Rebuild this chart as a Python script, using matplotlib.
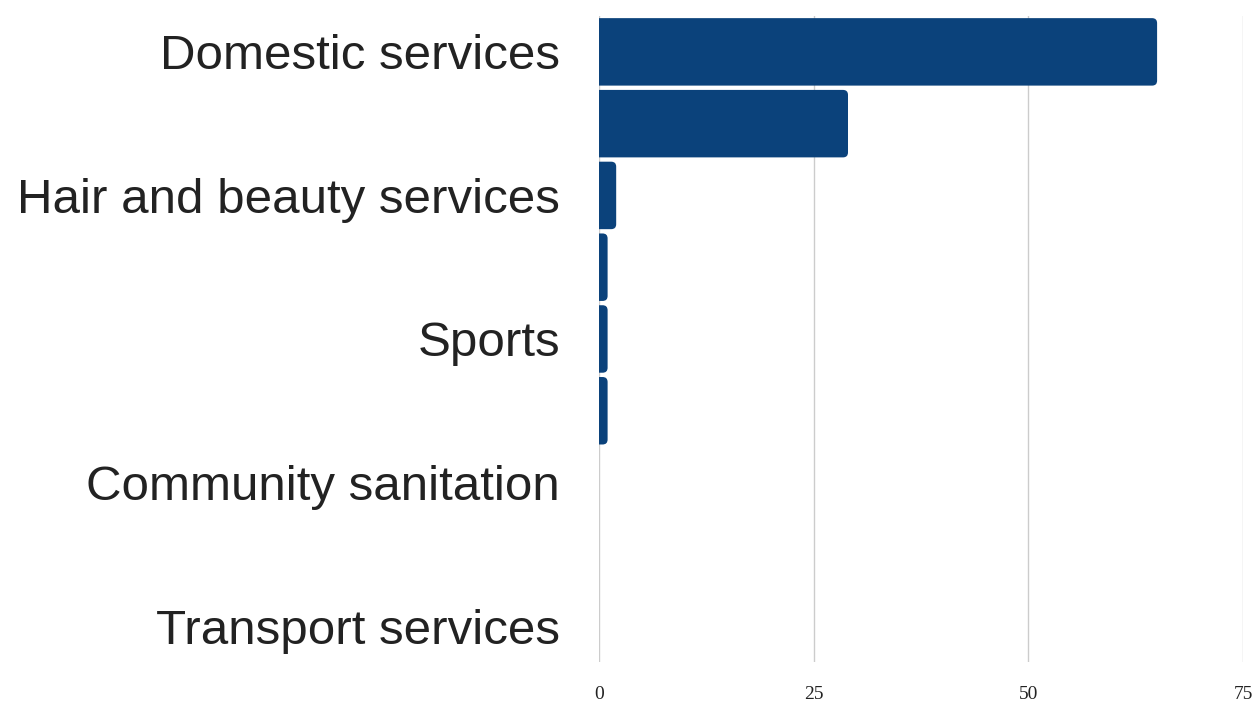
import matplotlib.pyplot as plt
from matplotlib.patches import FancyBboxPatch

# bars, top to bottom; only every other category label is drawn
categories = ["Domestic services", "", "Hair and beauty services", "",
              "Sports", "", "Community sanitation", "", "Transport services"]
values = [65, 29, 2, 1, 1, 1, 0, 0, 0]
xticks = [0, 25, 50, 75]

bar_color = "#0b427b"

fig = plt.figure(figsize=(12.55, 7.04), dpi=100)
ax = fig.add_axes([0.4773, 0.0597, 0.5131, 0.9176])

n = len(values)
ax.set_xlim(0, 75)
ax.set_ylim(n - 0.5, -0.5)

# rounded right ends; left edge starts off-axis so it stays square
height = 0.94
px_x = 644 / 75.0
px_y = 72.0
for i, v in enumerate(values):
    if v <= 0:
        continue
    r = 5 / px_x
    box = FancyBboxPatch((-2, i - height / 2), v + 2, height,
                         boxstyle="round,pad=0,rounding_size=%f" % r,
                         mutation_aspect=px_x / px_y,
                         facecolor=bar_color, edgecolor="none", zorder=3)
    ax.add_patch(box)

ax.set_yticks(range(n))
ax.set_yticklabels(categories, fontsize=35.5, fontfamily="Liberation Sans",
                   color="#222222")
ax.set_xticks(xticks)
ax.set_xticklabels([str(t) for t in xticks], fontsize=14,
                   fontfamily="Liberation Serif", color="#222222")
ax.tick_params(axis="both", length=0)
ax.tick_params(axis="y", pad=28)
ax.tick_params(axis="x", pad=17)

ax.grid(axis="x", color="#cccccc", linewidth=1, zorder=0)
for s in ax.spines.values():
    s.set_visible(False)

fig.savefig("out.png", dpi=100)
